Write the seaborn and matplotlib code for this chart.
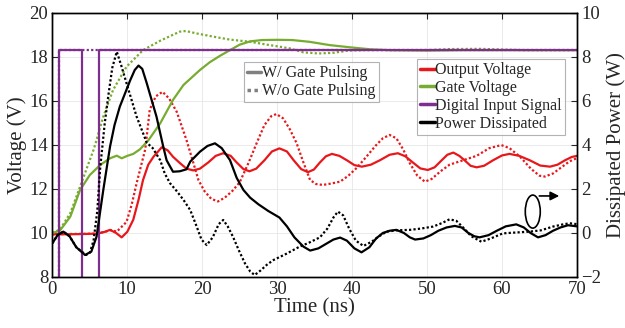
import matplotlib
matplotlib.use("Agg")
import matplotlib.pyplot as plt
from matplotlib.lines import Line2D
from matplotlib.patches import Ellipse
import seaborn as sns

# ---- data ----
# output voltage (V), with / without gate pulsing
t_out_w = [0, 2, 4, 6, 7, 7.7, 8.5, 9.25, 10, 10.8, 11.5, 12.1, 12.8, 13.5, 14.6, 15.4,
           16.1, 17.0, 17.9, 18.8, 19.7, 20.8, 21.8, 22.8, 23.8, 24.6, 25.5, 26.3, 27.2,
           28.3, 29.3, 30.3, 31.3, 32.2, 33.2, 34.1, 34.9, 35.7, 36.5, 37.3, 38.3, 39.3,
           40.3, 41.3, 42.5, 43.7, 45.0, 46.1, 47.1, 48.1, 49.1, 50.1, 51.0, 51.8, 52.7,
           53.5, 54.3, 55.0, 55.8, 56.6, 57.6, 58.8, 60.0, 61.0, 62.3, 63.7, 65.1, 66.4,
           67.4, 68.4, 69.3, 70]
v_out_w = [9.94, 9.94, 9.95, 9.97, 10.05, 10.14, 10.0, 9.8, 10.05, 10.6, 11.5, 12.4, 13.1,
           13.46, 13.89, 13.75, 13.46, 13.18, 12.92, 12.84, 12.92, 13.2, 13.5, 13.62, 13.5,
           13.2, 12.9, 12.8, 12.92, 13.3, 13.7, 13.84, 13.7, 13.3, 12.9, 12.76, 12.88, 13.2,
           13.48, 13.59, 13.5, 13.3, 13.08, 13.01, 13.1, 13.3, 13.55, 13.62, 13.48, 13.2,
           12.93, 12.86, 12.98, 13.25, 13.55, 13.65, 13.5, 13.3, 13.05, 12.98, 13.05, 13.3,
           13.52, 13.59, 13.5, 13.3, 13.06, 13.01, 13.1, 13.3, 13.45, 13.5]
t_out_wo = [0, 6, 7, 7.8, 8.6, 9.9, 10.6, 11.25, 11.8, 12.4, 13.0, 13.8, 14.7, 15.6, 16.6,
            17.9, 18.8, 19.5, 20.3, 21.2, 22.1, 23.0, 24.0, 25.0, 26.2, 27.25, 28.3, 29.2,
            29.9, 30.8, 31.7, 32.6, 33.5, 34.4, 35.2, 36.1, 37.3, 38.4, 39.5, 40.6, 41.9,
            43.1, 44.1, 45.0, 45.9, 46.8, 47.7, 48.7, 49.7, 50.6, 51.8, 53.0, 54.8, 56.6,
            58.3, 59.9, 61.0, 62.4, 63.9, 65.0, 65.7, 66.8, 68.0, 69.0, 70]
v_out_wo = [9.94, 9.97, 10.05, 10.13, 10.06, 10.5, 11.3, 12.26, 13.0, 13.8, 15.6, 16.2,
            16.41, 16.1, 15.5, 14.22, 13.2, 12.4, 11.9, 11.55, 11.43, 11.6, 11.9, 12.3, 13.2,
            14.07, 14.9, 15.3, 15.4, 15.2, 14.7, 14.07, 13.2, 12.4, 12.22, 12.18, 12.25,
            12.33, 12.6, 12.95, 13.46, 13.95, 14.3, 14.45, 14.3, 13.8, 13.16, 12.6, 12.33,
            12.45, 12.8, 13.1, 13.3, 13.5, 13.85, 13.99, 13.85, 13.46, 12.9, 12.6, 12.56,
            12.7, 13.0, 13.25, 13.4]

# gate voltage (V)
t_gate_w = [0, 1.0, 2.4, 3.7, 5.0, 6.4, 7.7, 8.6, 9.25, 10.0, 10.8, 11.7, 12.8, 14.4, 16.1,
            17.5, 19.7, 21.0, 22.4, 23.7, 25.0, 26.4, 28.0, 30.0, 32.0, 34.3, 37.0, 39.7,
            42.4, 45.0, 50.0, 55.0, 60.0, 65.0, 70]
v_gate_w = [10.0, 10.1, 10.74, 11.95, 12.63, 13.09, 13.39, 13.51, 13.39, 13.5, 13.59, 13.8,
            14.2, 14.98, 16.04, 16.72, 17.4, 17.75, 18.05, 18.3, 18.55, 18.7, 18.76, 18.77,
            18.76, 18.68, 18.53, 18.43, 18.34, 18.3, 18.28, 18.3, 18.3, 18.3, 18.3]
t_gate_wo = [0, 1.0, 2.4, 3.7, 5.0, 5.5, 5.9, 6.8, 8.1, 9.9, 12.1, 14.4, 17.0, 17.8, 19.25,
             21.7, 23.7, 26.4, 29.0, 31.7, 33.5, 35.5, 37.5, 39.5, 42, 50, 53, 57, 60, 63, 70]
v_gate_wo = [10.0, 10.15, 10.9, 12.1, 13.31, 13.77, 14.22, 15.28, 16.49, 17.55, 18.3, 18.73,
             19.14, 19.17, 19.06, 18.9, 18.78, 18.68, 18.53, 18.38, 18.2, 18.15, 18.18, 18.28,
             18.3, 18.3, 18.35, 18.36, 18.33, 18.3, 18.3]

# digital input signal (V)
t_dig_w = [0, 0.9, 0.9, 3.9, 3.9, 6.2, 6.2, 70]
v_dig_w = [0, 0, 18.3, 18.3, 0, 0, 18.3, 18.3]
t_dig_wo = [0, 0.9, 0.9, 70]
v_dig_wo = [0, 0, 18.3, 18.3]

# power dissipated (W)
t_pow_w = [0, 0.7, 1.47, 2.3, 3.2, 4.36, 5.2, 5.9, 6.8, 7.7, 8.3, 9.0, 10.4, 11.0, 11.5, 12.0,
           12.6, 13.9, 14.8, 15.25, 16.1, 17.0, 17.9, 18.4, 19.7, 20.7, 21.7, 22.6, 23.7,
           24.6, 25.5, 26.4, 27.5, 28.8, 30.3, 31.3, 32.3, 33.5, 34.4, 35.5, 36.5, 37.5,
           38.4, 39.3, 40.3, 41.25, 42.3, 43.2, 44.1, 45.0, 45.9, 46.9, 47.7, 48.4, 49.5,
           50.5, 51.5, 52.6, 53.7, 54.6, 55.5, 56.3, 57.0, 58.2, 59.3, 60.5, 61.9, 62.9,
           63.8, 64.8, 65.8, 66.8, 67.8, 68.8, 70]
p_pow_w = [-0.47, -0.1, 0.06, -0.15, -0.65, -1.0, -0.85, -0.17, 1.95, 3.92, 4.9, 5.73, 6.94,
           7.4, 7.6, 7.45, 6.8, 5.28, 3.92, 3.3, 2.78, 2.8, 2.89, 3.24, 3.69, 3.95, 4.07, 3.85,
           3.31, 2.5, 1.95, 1.6, 1.3, 1.0, 0.7, 0.3, -0.2, -0.62, -0.8, -0.7, -0.5, -0.3,
           -0.21, -0.35, -0.7, -0.88, -0.65, -0.25, 0.0, 0.1, 0.14, 0.0, -0.2, -0.3, -0.25,
           -0.1, 0.1, 0.25, 0.32, 0.25, 0.0, -0.15, -0.2, -0.1, 0.1, 0.3, 0.39, 0.25, 0.0,
           -0.2, -0.1, 0.1, 0.25, 0.35, 0.3]
t_pow_wo = [0, 0.7, 1.47, 2.3, 3.2, 4.5, 5.0, 5.5, 6.0, 6.4, 7.0, 7.5, 8.0, 8.6, 9.2, 9.9,
            11.25, 12.6, 13.4, 14.4, 15.0, 15.7, 16.6, 17.5, 18.4, 19.25, 19.9, 20.6, 21.4,
            22.2, 22.8, 23.4, 24.1, 24.9, 25.7, 26.4, 27.0, 27.8, 28.6, 29.5, 31.2, 33.0,
            34.2, 35.7, 36.7, 37.5, 38.1, 38.8, 39.6, 40.5, 41.5, 42.6, 43.6, 44.6, 46.0,
            47.7, 49.2, 50.8, 52.0, 53.0, 53.9, 54.8, 55.9, 57.25, 58.5, 60.1, 61.8, 63.7,
            65.2, 66.8, 68.0, 69.0, 70]
p_pow_wo = [-0.47, -0.1, 0.06, -0.15, -0.65, -1.0, -0.9, -0.35, 1.0, 3.0, 5.0, 6.3, 7.5,
            8.23, 7.6, 6.8, 5.28, 4.1, 3.85, 3.3, 2.7, 2.26, 1.9, 1.5, 1.04, 0.3, -0.3,
            -0.55, -0.2, 0.4, 0.59, 0.3, -0.17, -0.8, -1.38, -1.75, -1.91, -1.7, -1.45,
            -1.23, -0.95, -0.62, -0.45, -0.2, 0.2, 0.7, 0.97, 0.8, 0.2, -0.35, -0.59, -0.4,
            -0.15, 0.06, 0.12, 0.14, 0.2, 0.29, 0.45, 0.62, 0.55, 0.25, -0.15, -0.4, -0.25,
            -0.02, 0.02, 0.06, 0.12, 0.29, 0.38, 0.44, 0.4]

red = "#E8171B"
green = "#77AC30"
purple = "#7E2F8E"
dot = (0, (1, 1))

sns.set_style("white")
plt.rcParams["font.family"] = ["Liberation Serif", "DejaVu Serif"]

fig = plt.figure(figsize=(6.25, 3.28), dpi=100)
ax = fig.add_axes([0.0837, 0.1555, 0.8395, 0.8057])
ax2 = ax.twinx()

lw = 1.6
kw = dict(sort=False, estimator=None, legend=False)
sns.lineplot(x=t_out_wo, y=v_out_wo, ax=ax, color=red, lw=lw, linestyle=dot, **kw)
sns.lineplot(x=t_out_w, y=v_out_w, ax=ax, color=red, lw=lw, **kw)
sns.lineplot(x=t_gate_wo, y=v_gate_wo, ax=ax, color=green, lw=lw, linestyle=dot, **kw)
sns.lineplot(x=t_gate_w, y=v_gate_w, ax=ax, color=green, lw=lw, **kw)
sns.lineplot(x=t_dig_wo, y=v_dig_wo, ax=ax, color=purple, lw=lw, linestyle=dot, **kw)
sns.lineplot(x=t_dig_w, y=v_dig_w, ax=ax, color=purple, lw=lw, **kw)
sns.lineplot(x=t_pow_wo, y=p_pow_wo, ax=ax2, color="black", lw=lw, linestyle=dot, **kw)
sns.lineplot(x=t_pow_w, y=p_pow_w, ax=ax2, color="black", lw=lw, **kw)

ax.set_xlim(0, 70)
ax.set_ylim(8, 20)
ax2.set_ylim(-2, 10)
ax.set_xticks(range(0, 71, 10))
ax.set_yticks(range(8, 21, 2))
ax2.set_yticks(range(-2, 11, 2))
ax.grid(True, color="#e6e6e6", lw=0.6)
ax2.grid(False)
for a in (ax, ax2):
    for s in a.spines.values():
        s.set_color("black")
        s.set_linewidth(1.0)
ax.tick_params(direction="in", length=4, width=0.8, labelsize=13.5, top=True, right=False,
               pad=3)
ax2.tick_params(direction="in", length=4, width=0.8, labelsize=13.5, pad=3)
ax.set_xlabel("Time (ns)", fontsize=15, labelpad=0)
ax.set_ylabel("Voltage (V)", fontsize=15, labelpad=2)
ax2.set_ylabel("Dissipated Power (W)", fontsize=15, labelpad=4)

# annotation showing which axis the power curves use
ax2.add_patch(Ellipse((64.1, 0.97), 2.0, 1.5, fill=False, ec="black", lw=1.2))
ax2.annotate("", xy=(68.0, 1.68), xytext=(64.6, 1.68),
             arrowprops=dict(arrowstyle="-|>", color="black", lw=1.2, mutation_scale=13))

# legends
leg_kw = dict(loc="upper left", fontsize=11.5, frameon=True, fancybox=False,
              handlelength=0.9, handletextpad=0.05, borderpad=0.2, labelspacing=0.12,
              borderaxespad=0)
style_handles = [Line2D([], [], color="#808080", lw=2.5),
                 Line2D([], [], color="#808080", lw=2.5, linestyle=dot)]
leg1 = ax2.legend(style_handles, ["W/ Gate Pulsing", "W/o Gate Pulsing"],
                  bbox_to_anchor=(0.365, 0.813), **leg_kw)
leg1.get_frame().set_edgecolor("#a0a0a0")
leg1.get_frame().set_linewidth(0.8)
ax2.add_artist(leg1)

color_handles = [Line2D([], [], color=c, lw=2.5) for c in (red, green, purple, "black")]
leg2 = ax2.legend(color_handles, ["Output Voltage", "Gate Voltage", "Digital Input Signal",
                                  "Power Dissipated"],
                  bbox_to_anchor=(0.695, 0.825), **leg_kw)
leg2.get_frame().set_edgecolor("#a0a0a0")
leg2.get_frame().set_linewidth(0.8)

fig.savefig("out.png", dpi=100)
